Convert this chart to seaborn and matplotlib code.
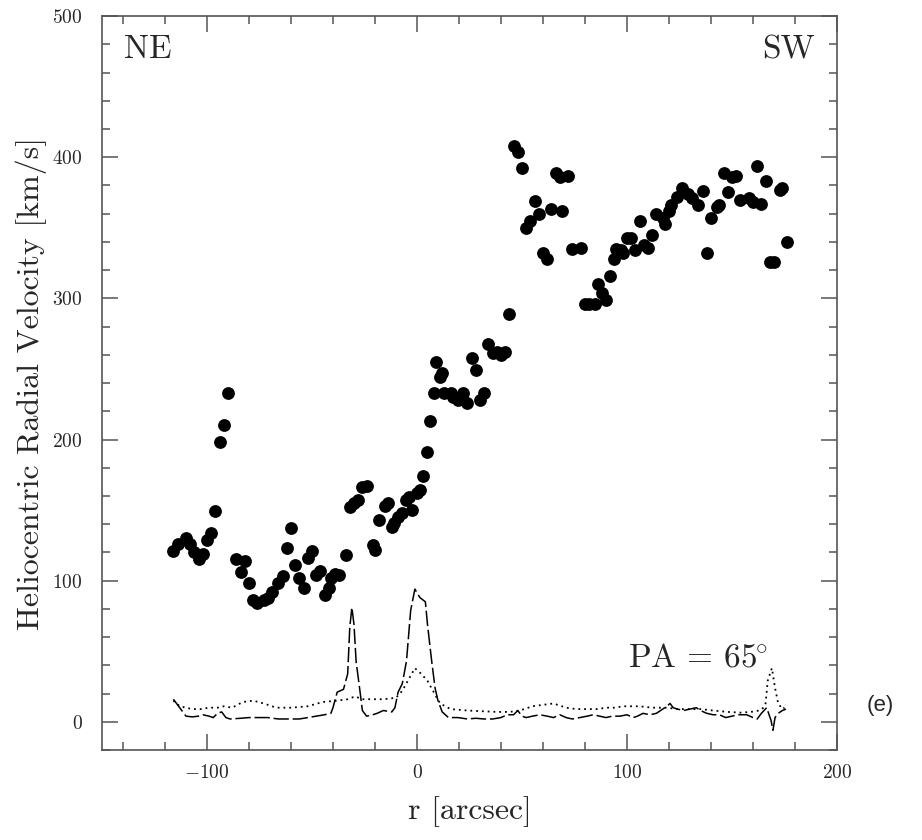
import matplotlib
matplotlib.use("Agg")
import matplotlib.pyplot as plt
from matplotlib.ticker import MultipleLocator
import seaborn as sns

sns.set_style("ticks")
plt.rcParams['font.family'] = 'serif'
plt.rcParams['font.serif'] = ['cmr10']
plt.rcParams['mathtext.fontset'] = 'cm'
plt.rcParams['axes.formatter.use_mathtext'] = True

# velocity points
r_pts = [-116, -114, -110, -108, -106, -104, -102, -100, -98, -96, -94, -92, -90,
         -86, -84, -82, -80, -78, -76, -73, -71, -69, -66, -64, -62, -60, -58, -56,
         -54, -52, -50, -48, -46, -44, -42, -41, -39, -37, -34, -32, -30, -28, -26,
         -24, -21, -20, -18, -15, -14, -12, -11, -9, -7, -5, -4, -2.6, 0, 1.4, 3,
         5, 6, 8, 9, 11, 12, 13, 16, 17, 19.5, 22, 24, 26, 28, 30, 32, 34, 36, 38,
         40, 42, 44, 46, 48, 50, 52, 54, 56, 58, 60, 62, 64, 66, 68, 69, 72, 74, 78,
         80, 82, 85, 86, 88, 90, 92, 94, 95, 97, 98, 100, 102, 104, 106, 108, 110,
         112, 114, 117, 118, 120, 121, 124, 126, 129, 131, 134, 136, 138, 140, 143,
         144, 146, 148, 150, 152, 154, 158, 160, 162, 164, 166, 168, 170, 173, 174, 176]
v_pts = [121, 126, 130, 126, 120, 115, 119, 129, 134, 149, 198, 210, 233,
         115, 106, 114, 98, 86, 84, 86, 88, 92, 98, 103, 123, 137, 111, 102,
         95, 116, 121, 104, 107, 90, 95, 102, 105, 104, 118, 152, 155, 157, 166,
         167, 125, 122, 143, 153, 155, 138, 141, 145, 148, 157, 159, 150, 162, 164, 174,
         191, 213, 233, 255, 244, 247, 233, 233, 230, 228, 233, 226, 258, 249, 228, 233, 268, 261, 262,
         260, 262, 289, 408, 404, 392, 350, 355, 369, 360, 332, 328, 363, 389, 386, 362, 387, 335, 336,
         296, 296, 296, 310, 304, 299, 316, 328, 335, 334, 332, 343, 343, 334, 355, 338, 336,
         345, 360, 357, 353, 362, 366, 372, 378, 374, 371, 366, 376, 332, 357, 365,
         366, 389, 375, 386, 387, 370, 371, 368, 394, 367, 383, 326, 326, 377, 378, 340]

# dashed profile
r_dash = [-116, -113, -110, -107, -104, -102, -99, -97, -95, -93, -91, -89, -84, -80,
          -76, -71, -66, -62, -56, -52, -48, -44, -41, -40, -38, -35, -33, -32, -31,
          -30, -29, -27, -26, -24, -21, -19, -16, -12, -10.5, -9, -7, -5, -3, -1,
          1.4, 4, 5, 7, 8.6, 10, 12, 15, 19.5, 24, 28, 32, 36, 40, 43, 46, 48, 50,
          52, 55, 58.5, 62, 65, 68, 71, 74, 77.6, 81, 84, 87, 90, 93, 96.7, 100, 103,
          105, 107.6, 111, 114, 117, 119, 120.5, 122, 124, 127, 130, 133, 135, 138,
          141, 144, 147, 150, 153, 157, 160, 162, 164, 166.5, 168.6, 169.5, 170.5,
          172, 174, 175.7]
s_dash = [16, 10, 4, 3.5, 4, 5, 4, 3, 6, 7, 3, 2, 2.5, 3,
          3, 3, 2, 2, 2, 3, 4, 5, 6, 10, 21, 23, 34, 67, 81,
          69, 43, 20, 8, 4, 5, 6, 8, 7, 10, 21, 27, 43, 79, 94,
          88, 85, 69, 43, 24, 15, 7, 3, 3, 2, 2.5, 2, 2, 3, 5, 5, 8, 4,
          3, 4, 5, 4, 3, 5, 3, 2, 3, 4, 5, 4, 3, 4, 4, 5, 3,
          4, 6, 5, 6, 9, 11, 13, 10, 9, 8, 9, 10, 8, 6,
          5, 5, 3, 4, 5, 5, 3, 2, 6, 10, 1, -6, 3,
          6, 8, 9]

# dotted profile
r_dot = [-116, -113, -110, -107, -103, -99, -95, -92, -88, -83, -78, -73, -67, -60,
         -52, -45, -38, -33, -29.5, -26, -21, -16, -10, -7, -4, -1, 2, 5, 7.6, 11,
         16, 24, 31, 38, 44, 49, 55, 60, 65, 71, 76, 81, 86, 90, 94, 98, 102, 106,
         112, 119, 124, 129, 135, 141, 148, 154, 159, 163, 165, 166, 167, 169, 170.5,
         172, 174, 175]
s_dot = [15, 11, 10, 9, 9, 10, 10, 11, 10, 14, 15, 13, 10, 10,
         11, 14, 15, 16, 18, 16, 16, 16, 17, 22, 30, 38, 34, 29, 22, 13,
         9, 8, 7.5, 7, 7, 8, 11, 12, 13, 10, 9, 9, 9, 10, 10, 11, 11, 11,
         10, 10, 9, 9, 9, 8, 7, 6.5, 7, 8, 10, 13, 29, 38, 24,
         13, 9, 10]

fig = plt.figure(figsize=(9.22, 8.4), dpi=100)
ax = fig.add_axes([0.1106, 0.1071, 0.7972, 0.8738])

sns.scatterplot(x=r_pts, y=v_pts, ax=ax, color='k', s=85, linewidth=0, zorder=3)
sns.lineplot(x=r_dash, y=s_dash, ax=ax, color='k', estimator=None, sort=False,
             linewidth=1.1, linestyle=(0, (10, 2.5)))
sns.lineplot(x=r_dot, y=s_dot, ax=ax, color='k', estimator=None, sort=False,
             linewidth=1.3, linestyle=(0, (1, 2.2)))

ax.set_xlim(-150, 200)
ax.set_ylim(-20, 500)
ax.xaxis.set_major_locator(MultipleLocator(100))
ax.xaxis.set_minor_locator(MultipleLocator(20))
ax.yaxis.set_major_locator(MultipleLocator(100))
ax.yaxis.set_minor_locator(MultipleLocator(20))
ax.tick_params(which='both', direction='in', top=True, right=True,
               color='#555555', width=1.1)
ax.tick_params(which='major', length=11.5, labelsize=14)
ax.tick_params(axis='x', which='major', pad=10)
ax.tick_params(axis='y', which='major', pad=14)
ax.tick_params(which='minor', length=5.8)
for sp in ax.spines.values():
    sp.set_color('#555555')
    sp.set_linewidth(1.2)

ax.set_xlabel('r [arcsec]', fontsize=23, labelpad=10)
ax.set_ylabel('Heliocentric Radial Velocity [km/s]', fontsize=23, labelpad=4)

ax.text(0.030, 0.974, 'NE', transform=ax.transAxes, fontsize=24, ha='left', va='top')
ax.text(0.970, 0.974, 'SW', transform=ax.transAxes, fontsize=24, ha='right', va='top')
ax.text(0.906, 0.125, r'PA = 65$^{\!\!\circ}$', transform=ax.transAxes, fontsize=24,
        ha='right', va='center')
fig.text(0.955, 0.16, '(e)', fontsize=16, family='Liberation Sans',
         ha='center', va='center')

fig.savefig('out.png', dpi=100)
